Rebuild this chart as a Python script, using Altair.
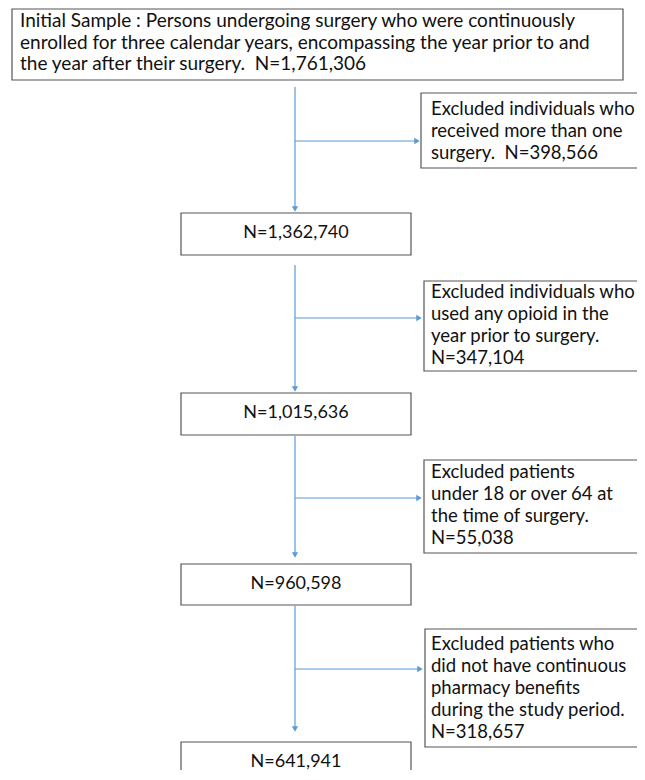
import altair as alt
import pandas as pd

# ---- content ----
top_lines = [
    "Initial Sample : Persons undergoing surgery who were continuously",
    "enrolled for three calendar years, encompassing the year prior to and",
    "the year after their surgery.\u00a0 N=1,761,306",
]
main_counts = ["N=1,362,740", "N=1,015,636", "N=960,598", "N=641,941"]
excl_lines = [
    ["Excluded individuals who", "received more than one", "surgery.\u00a0 N=398,566"],
    ["Excluded individuals who", "used any opioid in the", "year prior to surgery.", "N=347,104"],
    ["Excluded patients", "under 18 or over 64 at", "the time of surgery.", "N=55,038"],
    ["Excluded patients who", "did not have continuous", "pharmacy benefits",
     "during the study period.", "N=318,657"],
]

# ---- layout (page pixel coordinates) ----
top_box = (12, 623, 9, 80)
top_text_x = 20
top_text_y0 = 21
line_gap = 21.5
main_x = (181, 411)
main_boxes_y = [(213, 255), (393, 435), (564, 605), (742, 800)]
excl_boxes = [(421, 660, 93, 168), (424, 660, 281, 371), (424, 660, 460, 553), (425, 660, 629, 747)]
excl_text_x = 431
excl_text_y0 = [109, 292, 472, 644]
excl_gap = 22
flow_x = 295
seg_y = [(87, 212), (265, 392), (436, 558), (606, 732)]
branch_y = [141, 318, 498, 669]
branch_tip = [420, 422, 422, 423]

BLUE = "#5b9bd5"
BORDER = "#555555"
FONT = "Lato"
FS_TOP = 19
FS_EXCL = 18.5
FS_COUNT = 18

# ---- tables ----
boxes = [dict(x=top_box[0], x2=top_box[1], y=top_box[2], y2=top_box[3])]
for (a, b) in main_boxes_y:
    boxes.append(dict(x=main_x[0], x2=main_x[1], y=a, y2=b))
for (x1, x2, y1, y2) in excl_boxes:
    boxes.append(dict(x=x1, x2=x2, y=y1, y2=y2))
boxes = pd.DataFrame(boxes)

rules = []
for (a, b) in seg_y:
    rules.append(dict(x=flow_x, x2=flow_x, y=a, y2=b - 3))
for yy, tip in zip(branch_y, branch_tip):
    rules.append(dict(x=flow_x, x2=tip - 3, y=yy, y2=yy))
rules = pd.DataFrame(rules)

down_heads = pd.DataFrame([dict(x=flow_x, y=b - 3) for (a, b) in seg_y])
right_heads = pd.DataFrame([dict(x=t - 3, y=yy) for yy, t in zip(branch_y, branch_tip)])

top_texts = pd.DataFrame([
    dict(x=top_text_x, y=top_text_y0 + i * line_gap, t=t) for i, t in enumerate(top_lines)
])
excl_texts = []
for lines, y0 in zip(excl_lines, excl_text_y0):
    for i, t in enumerate(lines):
        excl_texts.append(dict(x=excl_text_x, y=y0 + i * excl_gap, t=t))
excl_texts = pd.DataFrame(excl_texts)

center_texts = pd.DataFrame([
    dict(x=(main_x[0] + main_x[1]) / 2, y=a + 19.5, t=c)
    for (a, b), c in zip(main_boxes_y, main_counts)
])

W, H = 629, 762
xs = alt.Scale(domain=[8, 8 + W], nice=False, zero=False)
ys = alt.Scale(domain=[8, 8 + H], nice=False, zero=False, reverse=True)
X = lambda f="x": alt.X(f"{f}:Q", scale=xs, axis=None)
Y = lambda f="y": alt.Y(f"{f}:Q", scale=ys, axis=None)

rule_layer = alt.Chart(rules).mark_rule(color=BLUE, strokeWidth=1.2, clip=True).encode(
    x=X(), x2="x2:Q", y=Y(), y2="y2:Q")
down_layer = alt.Chart(down_heads).mark_point(
    shape="triangle-down", filled=True, size=40, color=BLUE, opacity=1).encode(x=X(), y=Y())
right_layer = alt.Chart(right_heads).mark_point(
    shape="triangle-right", filled=True, size=40, color=BLUE, opacity=1).encode(x=X(), y=Y())
box_layer = alt.Chart(boxes).mark_rect(
    fill="white", stroke=BORDER, strokeWidth=1.2, clip=True).encode(
    x=X(), x2="x2:Q", y=Y(), y2="y2:Q")
ttext = alt.Chart(top_texts).mark_text(
    align="left", baseline="middle", font=FONT, fontSize=FS_TOP, color="#111111").encode(
    x=X(), y=Y(), text="t:N")
etext = alt.Chart(excl_texts).mark_text(
    align="left", baseline="middle", font=FONT, fontSize=FS_EXCL, color="#111111").encode(
    x=X(), y=Y(), text="t:N")
ctext = alt.Chart(center_texts).mark_text(
    align="center", baseline="middle", font=FONT, fontSize=FS_COUNT, color="#111111").encode(
    x=X(), y=Y(), text="t:N")

chart = alt.layer(rule_layer, down_layer, right_layer, box_layer, ttext, etext, ctext).properties(
    width=W, height=H, padding=0, autosize=alt.AutoSizeParams(type="none"),
    background="white",
).configure_view(stroke=None)

chart.save("out.html", embed_options={"renderer": "svg", "actions": False})
